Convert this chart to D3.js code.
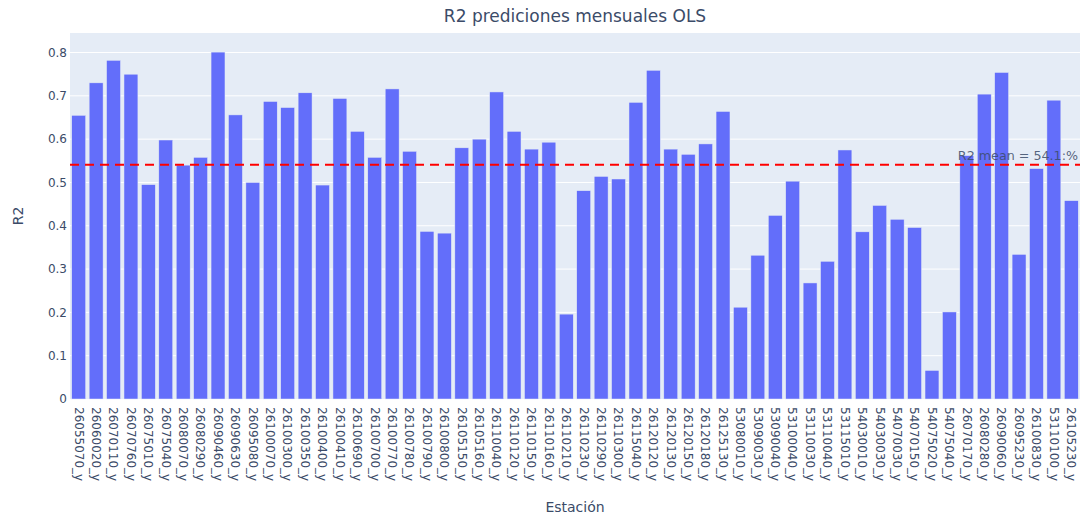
<!DOCTYPE html>
<html>
<head>
<meta charset="utf-8">
<script src="https://cdn.jsdelivr.net/npm/d3@7"></script>
<style>
  body { margin: 0; background: #fff; }
  text { font-family: "DejaVu Sans", verdana, sans-serif; }
</style>
</head>
<body>
<script>
var estaciones = ["26055070_y","26060020_y","26070110_y","26070760_y","26075010_y","26075040_y",
  "26080070_y","26080290_y","26090460_y","26090630_y","26095080_y","26100070_y","26100300_y",
  "26100350_y","26100400_y","26100410_y","26100690_y","26100700_y","26100770_y","26100780_y",
  "26100790_y","26100800_y","26105150_y","26105160_y","26110040_y","26110120_y","26110150_y",
  "26110160_y","26110210_y","26110230_y","26110290_y","26110300_y","26115040_y","26120120_y",
  "26120130_y","26120150_y","26120180_y","26125130_y","53080010_y","53090030_y","53090040_y",
  "53100040_y","53110030_y","53110040_y","53115010_y","54030010_y","54030030_y","54070030_y",
  "54070150_y","54075020_y","54075040_y","26070170_y","26080280_y","26090060_y","26095230_y",
  "26100830_y","53110100_y","26105230_y"];

var r2 = [0.655,0.730,0.782,0.750,0.495,0.598,0.540,0.558,0.801,0.656,0.500,0.687,0.673,
  0.707,0.494,0.694,0.618,0.558,0.716,0.572,0.387,0.383,0.580,0.600,0.709,0.618,0.577,
  0.593,0.196,0.481,0.514,0.508,0.685,0.759,0.577,0.565,0.589,0.664,0.212,0.332,0.424,
  0.503,0.268,0.318,0.575,0.386,0.447,0.415,0.396,0.066,0.201,0.562,0.704,0.754,0.334,
  0.532,0.690,0.458];

var yTicks = [0, 0.1, 0.2, 0.3, 0.4, 0.5, 0.6, 0.7, 0.8];
var r2Mean = 0.541;

var width = 1083, height = 517;
var margin = { top: 33, right: 3, bottom: 118, left: 70 };
var w = width - margin.left - margin.right;
var h = height - margin.top - margin.bottom;
var fontFam = "'DejaVu Sans', verdana, sans-serif";
var txtColor = "#3b4b68";

var svg = d3.select("body").append("svg")
  .attr("width", width)
  .attr("height", height);

var x = d3.scaleBand()
  .domain(estaciones)
  .range([0, w])
  .paddingInner(0.2)
  .paddingOuter(0.1);

var y = d3.scaleLinear()
  .domain([0, 0.8018 * 1.054])
  .range([h, 0]);

var g = svg.append("g")
  .attr("transform", "translate(" + margin.left + "," + margin.top + ")");

g.append("rect")
  .attr("width", w)
  .attr("height", h)
  .attr("fill", "#e5ecf6");

// grid
g.selectAll(".grid")
  .data(yTicks.slice(1))
  .enter()
  .append("line")
  .attr("x1", 0)
  .attr("x2", w)
  .attr("y1", function(d) { return y(d); })
  .attr("y2", function(d) { return y(d); })
  .attr("stroke", "#fff")
  .attr("stroke-width", 1);

// bars
g.selectAll(".bar")
  .data(r2)
  .enter()
  .append("rect")
  .attr("x", function(d, i) { return x(estaciones[i]); })
  .attr("y", function(d) { return y(d); })
  .attr("width", x.bandwidth())
  .attr("height", function(d) { return h - y(d); })
  .attr("fill", "#636efa")
  .attr("stroke", "#e5ecf6")
  .attr("stroke-width", 0.5);

// y axis
var yAxis = d3.axisLeft(y).tickValues(yTicks).tickSize(0).tickPadding(3)
  .tickFormat(function(d) { return d === 0 ? "0" : d3.format(".1f")(d); });
var ya = g.append("g").call(yAxis);
ya.select(".domain").remove();
ya.selectAll("text").attr("font-size", 12).attr("fill", txtColor)
  .style("font-family", fontFam);

// x axis
var xAxis = d3.axisBottom(x).tickSize(0);
var xa = g.append("g")
  .attr("transform", "translate(0," + h + ")")
  .call(xAxis);
xa.select(".domain").remove();
xa.selectAll("text")
  .attr("font-size", 12)
  .attr("fill", txtColor)
  .style("font-family", fontFam)
  .attr("text-anchor", "start")
  .attr("dy", "0.35em")
  .attr("transform", "translate(0,8) rotate(90)")
  .attr("x", 0)
  .attr("y", 0);

// mean line
g.append("line")
  .attr("x1", 0)
  .attr("x2", w)
  .attr("y1", y(r2Mean))
  .attr("y2", y(r2Mean))
  .attr("stroke", "red")
  .attr("stroke-width", 2)
  .attr("stroke-dasharray", "9,6");

g.append("text")
  .attr("x", w - 2)
  .attr("y", y(r2Mean) - 5)
  .attr("text-anchor", "end")
  .attr("font-size", 12.7)
  .attr("fill", txtColor)
  .attr("fill-opacity", 0.85)
  .text("R2 mean = 54.1:%");

// title
svg.append("text")
  .attr("x", 575)
  .attr("y", 22)
  .attr("text-anchor", "middle")
  .attr("font-size", 17)
  .attr("fill", txtColor)
  .text("R2 prediciones mensuales OLS");

svg.append("text")
  .attr("transform", "translate(23," + (margin.top + h / 2) + ") rotate(-90)")
  .attr("text-anchor", "middle")
  .attr("font-size", 14)
  .attr("fill", txtColor)
  .text("R2");

svg.append("text")
  .attr("x", margin.left + w / 2)
  .attr("y", 512)
  .attr("text-anchor", "middle")
  .attr("font-size", 14)
  .attr("fill", txtColor)
  .text("Estación");
</script>
</body>
</html>
